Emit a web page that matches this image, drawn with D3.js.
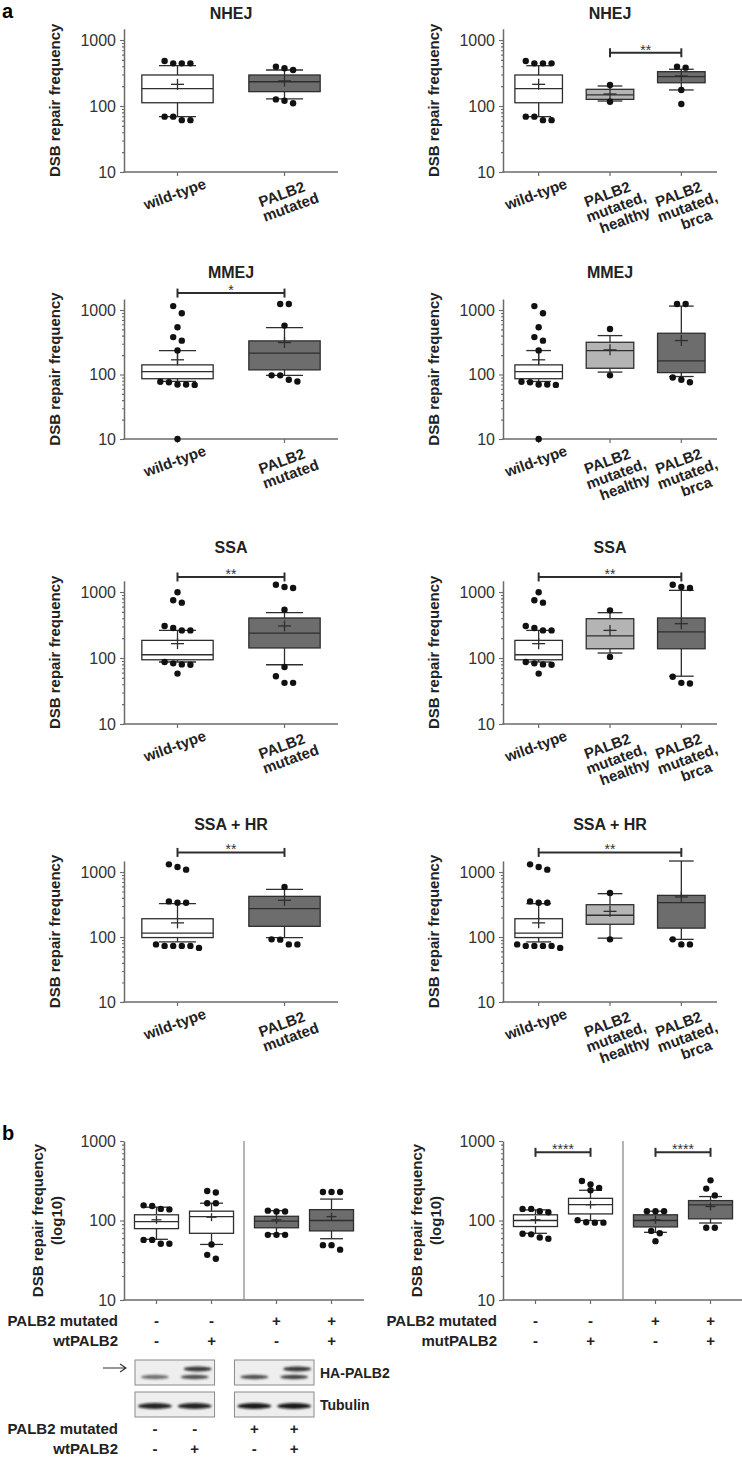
<!DOCTYPE html>
<html>
<head>
<meta charset="utf-8">
<script src="https://cdn.jsdelivr.net/npm/d3@7"></script>
<style>
    body { margin: 0; background: #fff; }
</style>
</head>
<body>
<svg id="fig" width="742" height="1461"></svg>
<script>
// ---------- data ----------
const assayTitles = ['NHEJ', 'MMEJ', 'SSA', 'SSA + HR'];
const leftLabels = [['wild-type'], ['PALB2', 'mutated']];
const rightLabels = [['wild-type'], ['PALB2', 'mutated,', 'healthy'], ['PALB2', 'mutated,', 'brca']];

// box stats: [whisker low, Q1, median, Q3, whisker high, mean]
// group order: wild-type, PALB2 mutated (all), mutated healthy, mutated brca
const nhejBox = [[69, 112, 183, 295, 408, 213], [128, 165, 233, 295, 351, 240], [119, 126, 147, 179, 201, 152], [175, 225, 278, 331, 360, 285]];
const nhejPts = [[481, 443, 443, 443, 69, 61, 61, 69], [373, 351, 394, 126, 110, 120], [208, 116], [381, 394, 175, 107]];

const mmejBox = [[78, 86, 111, 141, 235, 169], [97, 118, 214, 332, 533, 313], [109, 125, 235, 316, 401, 241], [93, 107, 163, 436, 1150, 336]];
const mmejPts = [[1150, 890, 540, 380, 335, 235, 76, 70, 69, 70, 77, 10], [1240, 1240, 573, 97, 78, 83, 97], [508, 97], [1240, 1240, 90, 76, 83]];

const ssaBox = [[87, 94, 112, 185, 262, 165], [79, 142, 239, 404, 486, 306], [119, 138, 216, 394, 486, 262], [53, 138, 248, 404, 1060, 331]];
const ssaPts = [[990, 750, 690, 306, 285, 262, 262, 87, 83, 80, 79, 58], [1190, 1150, 1290, 540, 73, 53, 42, 42], [527, 104], [1190, 1150, 1290, 52, 41, 42]];

const hrBox = [[84, 98, 115, 191, 326, 165], [98, 146, 273, 422, 541, 367], [96, 157, 216, 314, 464, 248], [92, 137, 337, 437, 1476, 413]];
const hrPts = [[1312, 1086, 1194, 337, 337, 353, 73, 73, 68, 73, 73, 77], [588, 91, 77, 77, 92], [475, 92], [92, 77, 77]];

// significance: [stars, bar level, from, to]
const leftSig = [null, ['*', 1830, 0, 1], ['**', 1690, 0, 1], ['**', 2000, 0, 1]];
const rightSig = [['**', 640, 1, 2], null, ['**', 1690, 0, 2], ['**', 2000, 0, 2]];

// panel b: complementation
const rescueWtBox = [[58, 79, 97, 118, 147, 102], [50, 69, 112, 131, 165, 110], [68, 81, 98, 113, 133, 102], [59, 74, 100, 137, 186, 112]];
const rescueWtPts = [[155, 140, 138, 152, 57, 51, 51, 57], [235, 225, 165, 165, 50, 37, 33], [130, 133, 130, 66, 66, 66], [228, 228, 228, 49, 43, 49]];
const rescueMutBox = [[69, 84, 100, 118, 136, 102], [100, 121, 158, 190, 240, 158], [71, 83, 100, 118, 131, 102], [93, 105, 157, 178, 200, 150]];
const rescueMutPts = [[140, 131, 127, 140, 67, 59, 61, 68], [314, 257, 240, 285, 94, 94, 95, 101], [131, 131, 131, 74, 69, 55], [320, 252, 207, 81, 81]];
const rescueSig = [['****', 720, 0, 1], ['****', 720, 2, 3]];

const palb2Signs = ['-', '-', '+', '+'];
const vectorSigns = ['-', '+', '-', '+'];
const wtRows = ['PALB2 mutated', 'wtPALB2'];
const mutRows = ['PALB2 mutated', 'mutPALB2'];

// western blot band strength per lane
const haUpper = [0, 0.85, 0, 0.85];
const haLower = [0.6, 0.75, 0.75, 0.8];
const tubulinBand = [0.9, 0.9, 0.95, 0.95];

// ---------- styles ----------
const FONT = '"Liberation Sans", Arial, Helvetica, sans-serif';
const AX = '#6b6b6b';
const INK = '#2e2e2e';
const WHITE = '#ffffff', LIGHT = '#b4b4b4', DARK = '#6d6d6d';
const R = 3.2;

const svg = d3.select('#fig').attr('font-family', FONT);

function yScale(y10, decade, top) {
    return d3.scaleLog().domain([10, top]).range([y10, y10 - decade * Math.log10(top / 10)]);
}

function drawYAxis(g, y, x0) {
    const major = g.append('g').attr('transform', `translate(${x0},0)`)
        .call(d3.axisLeft(y).tickValues([10, 100, 1000]).tickFormat(d3.format('d'))
            .tickSize(4).tickSizeOuter(0).tickPadding(4));
    const minorVals = d3.range(2, 10).map(k => k * 10).concat(d3.range(2, 10).map(k => k * 100));
    const minor = g.append('g').attr('transform', `translate(${x0},0)`)
        .call(d3.axisLeft(y).tickValues(minorVals).tickFormat('').tickSize(2).tickSizeOuter(0));
    minor.select('.domain').remove();
    [major, minor].forEach(a => {
        a.attr('font-family', FONT);
        a.select('.domain').attr('stroke', AX).attr('stroke-width', 1.5);
        a.selectAll('.tick line').attr('stroke', AX).attr('stroke-width', 1.1);
        a.selectAll('.tick text').attr('fill', '#333').attr('font-size', 16);
    });
}

function drawXAxis(g, x0, width, y10, centres) {
    g.append('line').attr('x1', x0 - 0.7).attr('x2', x0 + width).attr('y1', y10).attr('y2', y10)
        .attr('stroke', AX).attr('stroke-width', 1.5);
    g.selectAll(null).data(centres).enter().append('line')
        .attr('x1', d => d).attr('x2', d => d).attr('y1', y10).attr('y2', y10 + 4)
        .attr('stroke', AX).attr('stroke-width', 1.2);
}

// spread dots of similar height side by side
function swarm(values, y, c) {
    const sorted = values.map(v => ({ v, py: y(v) })).sort((a, b) => a.py - b.py);
    const clusters = [];
    sorted.forEach(p => {
        const last = clusters[clusters.length - 1];
        if (last && p.py - last[0].py < 7.5) last.push(p);
        else clusters.push([p]);
    });
    const out = [];
    clusters.forEach(cl => cl.forEach((p, k) => {
        out.push({ x: c + (k - (cl.length - 1) / 2) * (2 * R + 2.2), y: p.py });
    }));
    return out;
}

function drawBoxes(g, y, centres, bw, fills, boxes, pts, plusW) {
    boxes.forEach((s, i) => {
        const [lo, q1, med, q3, hi, mean] = s;
        const c = centres[i];
        const cap = bw * 0.26;
        const gg = g.append('g');
        gg.append('line').attr('x1', c).attr('x2', c).attr('y1', y(q3)).attr('y2', y(hi));
        gg.append('line').attr('x1', c).attr('x2', c).attr('y1', y(q1)).attr('y2', y(lo));
        gg.append('line').attr('x1', c - cap).attr('x2', c + cap).attr('y1', y(hi)).attr('y2', y(hi));
        gg.append('line').attr('x1', c - cap).attr('x2', c + cap).attr('y1', y(lo)).attr('y2', y(lo));
        gg.append('rect').attr('x', c - bw / 2).attr('y', y(q3))
            .attr('width', bw).attr('height', y(q1) - y(q3))
            .attr('fill', fills[i]).attr('stroke', INK).attr('stroke-width', 1.3);
        gg.append('line').attr('x1', c - bw / 2).attr('x2', c + bw / 2).attr('y1', y(med)).attr('y2', y(med));
        gg.append('line').attr('x1', c - plusW).attr('x2', c + plusW).attr('y1', y(mean)).attr('y2', y(mean));
        gg.append('line').attr('x1', c).attr('x2', c).attr('y1', y(mean) - plusW + 1).attr('y2', y(mean) + plusW - 1);
        gg.selectAll('line').attr('stroke', INK).attr('stroke-width', 1.3);
        gg.selectAll('circle').data(swarm(pts[i], y, c)).enter().append('circle')
            .attr('cx', d => d.x).attr('cy', d => d.y).attr('r', R).attr('fill', '#111');
    });
}

function drawSig(g, y, centres, sig) {
    if (!sig) return;
    const [stars, level, a, b] = sig;
    const yy = y(level);
    const gg = g.append('g').attr('stroke', INK).attr('stroke-width', 2);
    gg.append('line').attr('x1', centres[a]).attr('x2', centres[b]).attr('y1', yy).attr('y2', yy);
    [a, b].forEach(k => gg.append('line').attr('x1', centres[k]).attr('x2', centres[k])
        .attr('y1', yy - 4.5).attr('y2', yy + 4.5));
    g.append('text').attr('x', (centres[a] + centres[b]) / 2).attr('y', yy + 2)
        .attr('text-anchor', 'middle').attr('font-size', 14).attr('fill', '#333').text(stars);
}

function drawYLabel(g, lines, x, yc) {
    lines.forEach((t, i) => {
        g.append('text').attr('transform', `translate(${x + i * 19},${yc}) rotate(-90)`)
            .attr('text-anchor', 'middle').attr('font-size', 15).attr('font-weight', 'bold')
            .attr('fill', '#222').text(t);
    });
}

// ---------- panel a ----------
const rowY10 = [172, 439, 724, 1002];
const rowDecade = [66, 64.5, 66, 65];
const rowTitleY = [19, 278, 553, 830];
const rowBoxes = [nhejBox, mmejBox, ssaBox, hrBox];
const rowPts = [nhejPts, mmejPts, ssaPts, hrPts];

function drawPanelA(row, side) {
    const x0 = side === 0 ? 124 : 503;
    const width = 214;
    const y10 = rowY10[row];
    const y = yScale(y10, rowDecade[row], 1480);
    const groups = side === 0 ? [0, 1] : [0, 2, 3];
    const labels = side === 0 ? leftLabels : rightLabels;
    const fillsAll = [WHITE, DARK, LIGHT, DARK];
    const x = d3.scaleBand().domain(d3.range(groups.length)).range([x0, x0 + width]);
    const centres = groups.map((gi, i) => x(i) + x.bandwidth() / 2);
    const bw = x.bandwidth() * 2 / 3;
    const g = svg.append('g');

    g.append('text').attr('x', x0 + width / 2).attr('y', rowTitleY[row])
        .attr('text-anchor', 'middle').attr('font-size', 16).attr('font-weight', 'bold')
        .attr('fill', '#222').text(assayTitles[row]);

    drawYAxis(g, y, x0);
    drawXAxis(g, x0, width, y10, centres);
    drawYLabel(g, ['DSB repair frequency'], x0 - 64, (y.range()[0] + y.range()[1]) / 2);

    drawBoxes(g, y, centres, bw, groups.map(k => fillsAll[k]),
        groups.map(k => rowBoxes[row][k]), groups.map(k => rowPts[row][k]), 6.5);
    drawSig(g, y, centres, side === 0 ? leftSig[row] : rightSig[row]);

    labels.forEach((lines, i) => {
        const t = g.append('g').attr('transform', `translate(${centres[i] - 1},${y10 + 27}) rotate(-20)`);
        lines.forEach((line, k) => {
            t.append('text').attr('x', k * 4).attr('y', k * 15).attr('text-anchor', 'middle')
                .attr('font-size', 15).attr('font-weight', 'bold').attr('fill', '#222').text(line);
        });
    });
}

for (let r = 0; r < 4; r++) {
    drawPanelA(r, 0);
    drawPanelA(r, 1);
}

// ---------- panel b ----------
function drawPanelB(x0, boxes, pts, sig, rowNames) {
    const width = 240;
    const y10 = 1300;
    const y = yScale(y10, 79.5, 1000);
    const outer = d3.scaleBand().domain([0, 1]).range([x0, x0 + width]);
    const inner = d3.scalePoint().domain([0, 1]).range([0, outer.bandwidth()]).padding(0.59);
    const centres = d3.range(4).map(i => outer(Math.floor(i / 2)) + inner(i % 2));
    const g = svg.append('g');

    drawYAxis(g, y, x0);
    drawXAxis(g, x0, width, y10, centres);
    g.append('line').attr('x1', outer(1)).attr('x2', outer(1)).attr('y1', y(1000)).attr('y2', y10)
        .attr('stroke', '#8a8a8a').attr('stroke-width', 1.3);
    drawYLabel(g, ['DSB repair frequency', '(log10)'], x0 - 81, (y.range()[0] + y.range()[1]) / 2);
    drawBoxes(g, y, centres, 44, [WHITE, WHITE, DARK, DARK], boxes, pts, 5);
    sig.forEach(s => drawSig(g, y, centres, s));

    const rowY = [1326, 1346];
    [palb2Signs, vectorSigns].forEach((signs, r) => {
        g.append('text').attr('x', x0 - 6).attr('y', rowY[r]).attr('text-anchor', 'end')
            .attr('font-size', 15).attr('font-weight', 'bold').attr('fill', '#222').text(rowNames[r]);
        g.selectAll(null).data(signs).enter().append('text')
            .attr('x', (d, i) => centres[i]).attr('y', rowY[r]).attr('text-anchor', 'middle')
            .attr('font-size', 15).attr('font-weight', 'bold').attr('fill', '#222').text(d => d);
    });
}

drawPanelB(124, rescueWtBox, rescueWtPts, [], wtRows);
drawPanelB(503, rescueMutBox, rescueMutPts, rescueSig, mutRows);

// ---------- western blot ----------
(function drawBlot() {
    const defs = svg.append('defs');
    defs.append('filter').attr('id', 'blur').attr('x', '-30%').attr('y', '-200%')
        .attr('width', '160%').attr('height', '500%')
        .append('feGaussianBlur').attr('stdDeviation', 1.3);

    const outer = d3.scaleBand().domain([0, 1]).range([135, 314]).paddingInner(0.2);
    const inner = d3.scalePoint().domain([0, 1]).range([0, outer.bandwidth()]).padding(0.5);
    const lanes = d3.range(4).map(i => outer(Math.floor(i / 2)) + inner(i % 2));
    const g = svg.append('g');
    const panels = [{ y: 1360, h: 25, name: 'HA-PALB2' }, { y: 1392, h: 25, name: 'Tubulin' }];

    panels.forEach(p => {
        [0, 1].forEach(k => {
            g.append('rect').attr('x', outer(k)).attr('y', p.y)
                .attr('width', outer.bandwidth()).attr('height', p.h)
                .attr('fill', '#eeeeee').attr('stroke', '#8a8a8a').attr('stroke-width', 1);
        });
        g.append('text').attr('x', 320).attr('y', p.y + p.h / 2 + 5)
            .attr('font-size', 14).attr('font-weight', 'bold').attr('fill', '#222').text(p.name);
    });

    const bands = g.append('g').attr('filter', 'url(#blur)');
    bands.selectAll('.up').data(haUpper).enter().append('ellipse')
        .attr('cx', (d, i) => lanes[i] + 3).attr('cy', 1369).attr('rx', 14).attr('ry', 2.4)
        .attr('fill', '#1a1a1a').attr('opacity', d => d);
    bands.selectAll('.low').data(haLower).enter().append('ellipse')
        .attr('cx', (d, i) => lanes[i]).attr('cy', 1377).attr('rx', 14).attr('ry', 2.2)
        .attr('fill', '#1a1a1a').attr('opacity', d => d);
    bands.selectAll('.tub').data(tubulinBand).enter().append('ellipse')
        .attr('cx', (d, i) => lanes[i]).attr('cy', 1406).attr('rx', 17).attr('ry', 3)
        .attr('fill', '#111').attr('opacity', d => d);

    // arrow pointing at HA-PALB2
    g.append('path').attr('d', 'M103,1368H126M120,1364L126,1368L120,1372')
        .attr('fill', 'none').attr('stroke', '#333').attr('stroke-width', 1.1);

    const rowY = [1434, 1454];
    [palb2Signs, vectorSigns].forEach((signs, r) => {
        g.append('text').attr('x', 118).attr('y', rowY[r]).attr('text-anchor', 'end')
            .attr('font-size', 15).attr('font-weight', 'bold').attr('fill', '#222').text(wtRows[r]);
        g.selectAll(null).data(signs).enter().append('text')
            .attr('x', (d, i) => lanes[i]).attr('y', rowY[r]).attr('text-anchor', 'middle')
            .attr('font-size', 15).attr('font-weight', 'bold').attr('fill', '#222').text(d => d);
    });
})();

// panel letters
svg.append('text').attr('x', 2).attr('y', 18).attr('font-size', 20).attr('font-weight', 'bold').text('a');
svg.append('text').attr('x', 2).attr('y', 1140).attr('font-size', 20).attr('font-weight', 'bold').text('b');
</script>
</body>
</html>
